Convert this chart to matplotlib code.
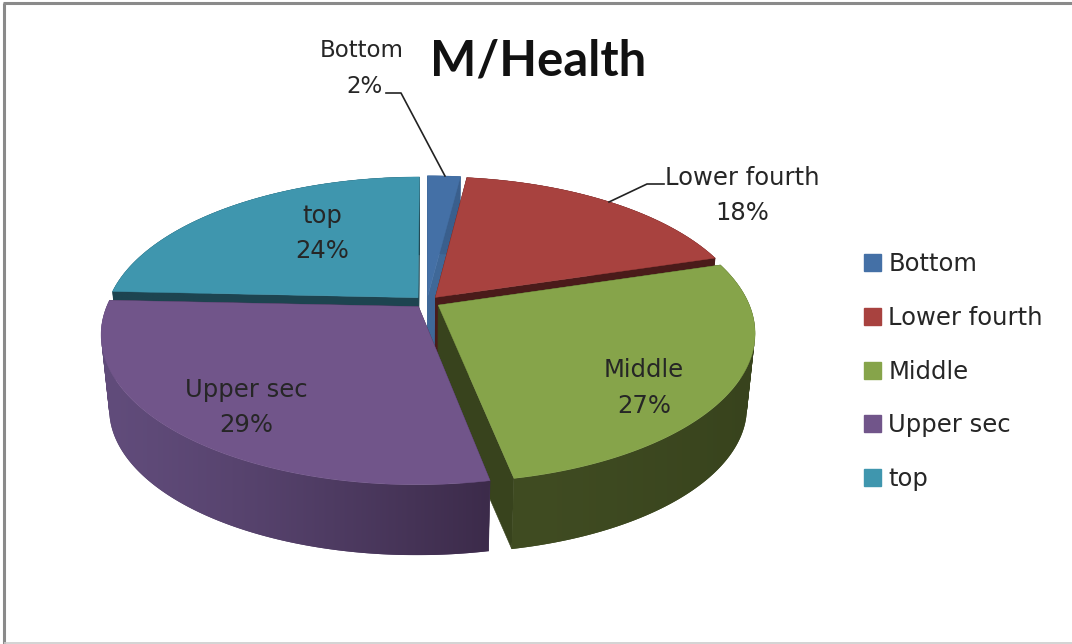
import numpy as np
import matplotlib
matplotlib.use("Agg")
import matplotlib.pyplot as plt
from matplotlib.patches import Patch, PathPatch
from matplotlib.path import Path
from matplotlib.colors import to_rgb

# ---- data ----
categories = ["Bottom", "Lower fourth", "Middle", "Upper sec", "top"]
values = [2.0, 18.3, 26.6, 28.8, 24.3]
colors = ["#4470a6", "#a8423f", "#86a44a", "#71558a", "#3f96ae"]
wall_left = ["#3a5f8d", "#4a1b1a", "#404c22", "#614c7b", "#1d4450"]
wall_right = ["#3a5f8d", "#4a1b1a", "#38431d", "#3c2b4a", "#1d4450"]
title = "M/Health"
draw_order = [4, 0, 1, 2, 3]
label_pos = {"Bottom": (362, 50, 86), "Lower fourth": (742, 178, 213), "Middle": (644, 370, 406),
             "Upper sec": (246, 390, 425), "top": (322, 216, 251)}

# ---- projection of the tilted, exploded pie into pixels ----
CX, CY = 427, 302
R, RK, P = 310.0, 144.0, 0.181
EXPLODE = 0.042
DEPTH, SHRINK = 75.0, 0.975
FONT = "DejaVu Sans"
FS = 17.5

fig = plt.figure(figsize=(10.72, 6.44), dpi=100, facecolor="white")
ax = fig.add_axes([0, 0, 1, 1])
ax.set_xlim(0, 1072)
ax.set_ylim(644, 0)
ax.axis("off")


def project(x, y):
    w = 1 + P * y
    return R * x / w, -RK * y / w


def upper(pts):
    return CX + pts[0], CY + pts[1]


def lower(pts):
    return CX + SHRINK * pts[0], CY + DEPTH + SHRINK * pts[1]


def fill(xs, ys, color, z):
    ax.fill(xs, ys, facecolor=color, edgecolor=color, linewidth=0.4, zorder=z)


def wall_path(top, bot):
    """Union of same-oriented quads between the two rims, so the silhouette stays filled."""
    verts, codes = [], []
    for k in range(len(top[0]) - 1):
        quad = np.array([[top[0][k], top[1][k]], [top[0][k + 1], top[1][k + 1]],
                         [bot[0][k + 1], bot[1][k + 1]], [bot[0][k], bot[1][k]]])
        x, y = quad[:, 0], quad[:, 1]
        if np.dot(x, np.roll(y, -1)) - np.dot(y, np.roll(x, -1)) < 0:
            quad = quad[::-1]
        verts += list(quad) + [quad[0]]
        codes += [Path.MOVETO, Path.LINETO, Path.LINETO, Path.LINETO, Path.CLOSEPOLY]
    return Path(np.array(verts), codes)


fractions = np.array(values) / np.sum(values)
edges = np.concatenate([[0], np.cumsum(fractions)]) * 2 * np.pi

z = 1
for i in draw_order:
    a0, a1 = edges[i], edges[i + 1]
    mid = (a0 + a1) / 2
    ex, ey = EXPLODE * np.sin(mid), EXPLODE * np.cos(mid)
    th = np.linspace(a0, a1, 160)
    rim = project(ex + np.sin(th), ey + np.cos(th))
    apex = project(ex, ey)
    rim_u, rim_l = upper(rim), lower(rim)
    apex_u, apex_l = upper(apex), lower(apex)

    # radial walls
    for j in (0, -1):
        fill([apex_u[0], rim_u[0][j], rim_l[0][j], apex_l[0]],
             [apex_u[1], rim_u[1][j], rim_l[1][j], apex_l[1]], wall_right[i] if i != 0 else "#3f6898", z)
        z += 1
    # outer wall, shaded from left to right by a clipped gradient image
    c0, c1 = np.array(to_rgb(wall_left[i])), np.array(to_rgb(wall_right[i]))
    path = wall_path(rim_u, rim_l)
    xmin, xmax = path.vertices[:, 0].min(), path.vertices[:, 0].max()
    ymin, ymax = path.vertices[:, 1].min(), path.vertices[:, 1].max()
    t = np.linspace(0, 1, 256)[None, :, None] ** 1.3
    grad = c0[None, None, :] + (c1 - c0)[None, None, :] * t
    ax.add_patch(PathPatch(path, facecolor=tuple((c0 + c1) / 2), edgecolor="none", zorder=z))
    z += 1
    img = ax.imshow(grad, extent=(xmin, xmax, ymax, ymin), aspect="auto", zorder=z,
                    interpolation="bilinear")
    img.set_clip_path(path, transform=ax.transData)
    z += 1
    # top face
    ax.fill(np.r_[apex_u[0], rim_u[0]], np.r_[apex_u[1], rim_u[1]], facecolor=colors[i],
            edgecolor=colors[i], linewidth=0.3, zorder=z)
    z += 1

ax.set_xlim(0, 1072)
ax.set_ylim(644, 0)

# labels
TXT = "#262626"
for name, frac in zip(categories, fractions):
    x, y1, y2 = label_pos[name]
    fs = FS if name != "Bottom" else 16.5
    ax.text(x, y1, name, ha="center", va="center", fontsize=fs, family=FONT, color=TXT, zorder=500)
    ax.text(x + (2 if name == "Bottom" else 0), y2, f"{round(frac * 100)}%", ha="center", va="center",
            fontsize=fs, family=FONT, color=TXT, zorder=500)

ax.text(538, 61, title, ha="center", va="center", fontsize=35.3, fontweight="bold",
        family="Lato", color="#111111", zorder=500)

# leader lines
ax.plot([386, 401, 445], [93, 93, 176], color="#222222", lw=1.2, zorder=501)
ax.plot([664, 647, 609], [184, 184, 202], color="#222222", lw=1.2, zorder=501)

# chart frame
ax.plot([4, 4], [3, 644], color="#8a8a8a", lw=2.2, zorder=502, solid_capstyle="butt")
ax.plot([3, 1072], [3, 3], color="#8a8a8a", lw=2.2, zorder=502, solid_capstyle="butt")
ax.plot([4, 1072], [643, 643], color="#cccccc", lw=1.2, zorder=502, solid_capstyle="butt")

# legend
handles = [Patch(facecolor=c, edgecolor=c, label=n) for c, n in zip(colors, categories)]
leg = ax.legend(handles=handles, loc="upper left", bbox_to_anchor=(864 / 1072, 1 - 252 / 644),
                frameon=False, borderaxespad=0, borderpad=0, labelspacing=1.227,
                handlelength=0.7, handleheight=0.7, handletextpad=0.3,
                prop={"family": FONT, "size": FS}, labelcolor=TXT)
leg.set_zorder(503)

fig.savefig("out.png", dpi=100, facecolor="white")
